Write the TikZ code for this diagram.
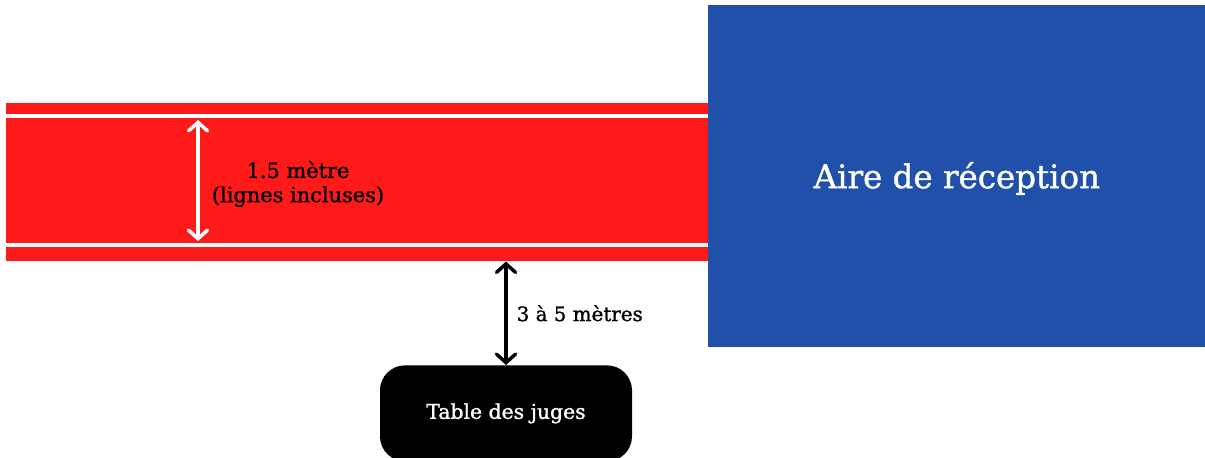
\documentclass[tikz,border=0pt]{standalone}
\usepackage{fontspec}
\setmainfont{DejaVu Serif}
\newfontfamily\epais{DejaVu Serif}[FakeBold=1.2]
\usetikzlibrary{arrows.meta,positioning}
\definecolor{rougepiste}{HTML}{FF1A1A}
\definecolor{bleuaire}{HTML}{2150AB}
\tikzset{
	fleche/.style={line width=2pt, line cap=round,
		{Straight Barb[length=1.7mm,width=3.8mm,line cap=round]}-{Straight Barb[length=1.7mm,width=3.8mm,line cap=round]}},
	ligne/.style={white, line width=2pt},
	zone/.style={inner sep=0pt, anchor=south west},
}
\begin{document}
\begin{tikzpicture}
	\useasboundingbox (0,0) rectangle (24.1,9.14);
	
	\node[zone, fill=rougepiste, minimum width=14.04cm, minimum height=3.16cm] (piste) at (0.12,3.91) {};%piste d'elan
	\node[zone, fill=bleuaire, text=white, minimum width=9.94cm, minimum height=6.84cm,
		text height=18.6pt, text depth=4.4pt,
		font=\epais\fontsize{18.5}{22}\selectfont] (aire) at (14.16,2.2) {Aire de réception};
	
	\coordinate (hg) at (0.12,6.82);
	\coordinate (hd) at (14.16,6.82);
	\coordinate (bg) at (0.12,4.24);
	\coordinate (bd) at (14.16,4.24);
	\draw[ligne] (hg) -- (hd);%ligne haut
	\draw[ligne] (bg) -- (bd);%ligne bas
	
	\coordinate (fh) at (3.96,6.74);
	\coordinate (fb) at (3.96,4.32);
	\draw[fleche, white] (fh) -- (fb);
	\node[align=center, font=\epais\fontsize{11.9}{13.8}\selectfont] (largeur) at (5.96,5.46) {1.5 mètre\\(lignes incluses)};
	
	\node[fill=black, text=white, rounded corners=0.5cm, minimum width=5.04cm, minimum height=1.92cm,
		anchor=north, font=\epais\fontsize{11.6}{14}\selectfont] (juges) at (10.12,1.84) {Table des juges};
	\draw[fleche] (juges.north |- piste.south) -- (juges.north)
		node[midway, right=0.18cm, inner sep=0pt, font=\epais\fontsize{11.3}{14}\selectfont] (distance) {3 à 5 mètres};
\end{tikzpicture}
\end{document}
